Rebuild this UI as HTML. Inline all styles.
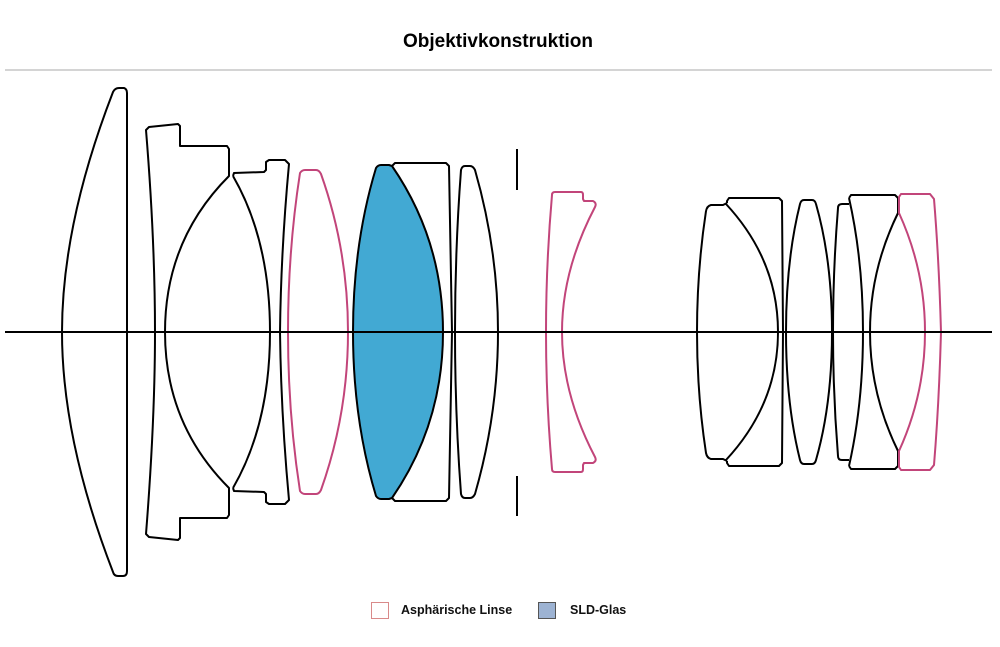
<!DOCTYPE html>
<html><head><meta charset="utf-8"><style>
html,body{margin:0;padding:0;background:#fff;width:1000px;height:647px;overflow:hidden}
svg{display:block}
</style></head><body>
<svg width="1000" height="647" viewBox="0 0 1000 647" xmlns="http://www.w3.org/2000/svg">
<text x="498" y="47" text-anchor="middle" font-family="Liberation Sans, sans-serif" font-weight="bold" font-size="19" fill="#000">Objektivkonstruktion</text>
<line x1="5" y1="70" x2="992" y2="70" stroke="#bbb" stroke-width="1.2"/>
<g fill="none" stroke="#000" stroke-width="2" stroke-linejoin="round">
<path d="M113,92 Q115,88 119,88 L124,88 Q127,89 127,93 L127,571 Q127,576 123,576 L118,576 Q114,576 113,572 Q62,440 62,332 Q62,224 113,92 Z"/>
<path d="M149,127 L178,124 L180,126 L180,146 L227,146 L229,149 L229,176 Q165,240 165,332 Q165,424 229,488 L229,515 L227,518 L180,518 L180,538 L178,540 L149,537 L146,534 Q155,420 155,332 Q155,240 146,130 Z"/>
<path d="M233,176 Q270,240 270,332 Q270,424 233,488"/>
<path d="M233,176 L234,173 L264,172 L266,170 L266,162 L269,160 L285,160 L289,164 Q281,250 280,332 Q281,414 289,500 L285,504 L269,504 L266,502 L266,494 L264,492 L234,491 L233,488"/>
<path d="M376,168 Q378,165 381,165 L389,165 L392,166 Q443,240 443,332 Q443,424 392,498 L389,499 L381,499 Q378,499 376,496 Q353,420 353,332 Q353,244 376,168 Z" fill="#42a9d3"/>
<path d="M392,166 L395,163 L446,163 L449,166 L452,332 L449,498 L446,501 L395,501 L392,498"/>
<path d="M461,170 Q462,166 465,166 L470,166 Q473,166 475,170 Q498,250 498,332 Q498,414 475,494 Q473,498 470,498 L465,498 Q462,498 461,494 Q455,414 455,332 Q455,250 461,170 Z"/>
<line x1="517" y1="149" x2="517" y2="190"/>
<line x1="517" y1="476" x2="517" y2="516"/>
<path d="M706,211 Q707,206 711,205 L723,205 L727,203 M706,211 Q697,270 697,332 Q697,394 706,453 Q707,458 711,459 L723,459 L727,461"/>
<path d="M727,203 L727,201 L729,198 L779,198 L782,201 L783,332 L782,463 L779,466 L729,466 L727,463 L727,461"/>
<path d="M726,204 Q778,260 778,332 Q778,404 726,460"/>
<path d="M800,204 Q801,200 804,200 L812,200 Q815,200 816,204 Q832,260 832,332 Q832,404 816,460 Q815,464 812,464 L804,464 Q801,464 800,460 Q786,404 786,332 Q786,260 800,204 Z"/>
<path d="M849,204 L842,204 Q838,204 838,208 Q833,270 833,332 Q833,394 838,456 Q838,460 842,460 L849,460"/>
<path d="M849,198 Q863,260 863,332 Q863,404 849,466"/>
<path d="M849,198 L851,195 L895,195 L898,198 L898,213 Q870,270 870,332 Q870,394 898,451 L898,466 L895,469 L851,469 L849,466"/>
</g>
<g fill="none" stroke="#c2457a" stroke-width="2" stroke-linejoin="round">
<path d="M300,173 Q302,170 305,170 L316,170 Q319,170 321,174 Q348,250 348,332 Q348,414 321,490 Q319,494 316,494 L305,494 Q302,494 300,491 Q288,414 288,332 Q288,250 300,173 Z"/>
<path d="M552,195 Q552,192 555,192 L581,192 Q583,192 583,195 L583,199 L584,201 L593,201 Q597,203 595,207 Q562,270 562,332 Q562,394 595,457 Q597,461 593,463 L584,463 L583,465 L583,469 Q583,472 581,472 L555,472 Q552,472 552,469 Q546,400 546,332 Q546,264 552,195 Z"/>
<path d="M899,213 L899,197 L901,194 L930,194 L934,199 Q939,260 941,332 Q939,404 934,465 L930,470 L901,470 L899,467 L899,451 Q925,394 925,332 Q925,270 899,213 Z"/>
</g>
<line x1="5" y1="332" x2="992" y2="332" stroke="#000" stroke-width="2"/>
<rect x="371.5" y="602.5" width="17" height="16" fill="#fff" stroke="#d98a8a" stroke-width="1"/>
<text x="401" y="614" font-family="Liberation Sans, sans-serif" font-weight="bold" font-size="12.5" fill="#111">Asphärische Linse</text>
<rect x="538.5" y="602.5" width="17" height="16" fill="#9db3d3" stroke="#555" stroke-width="1"/>
<text x="570" y="614" font-family="Liberation Sans, sans-serif" font-weight="bold" font-size="12.5" fill="#111">SLD-Glas</text>
</svg>
</body></html>
